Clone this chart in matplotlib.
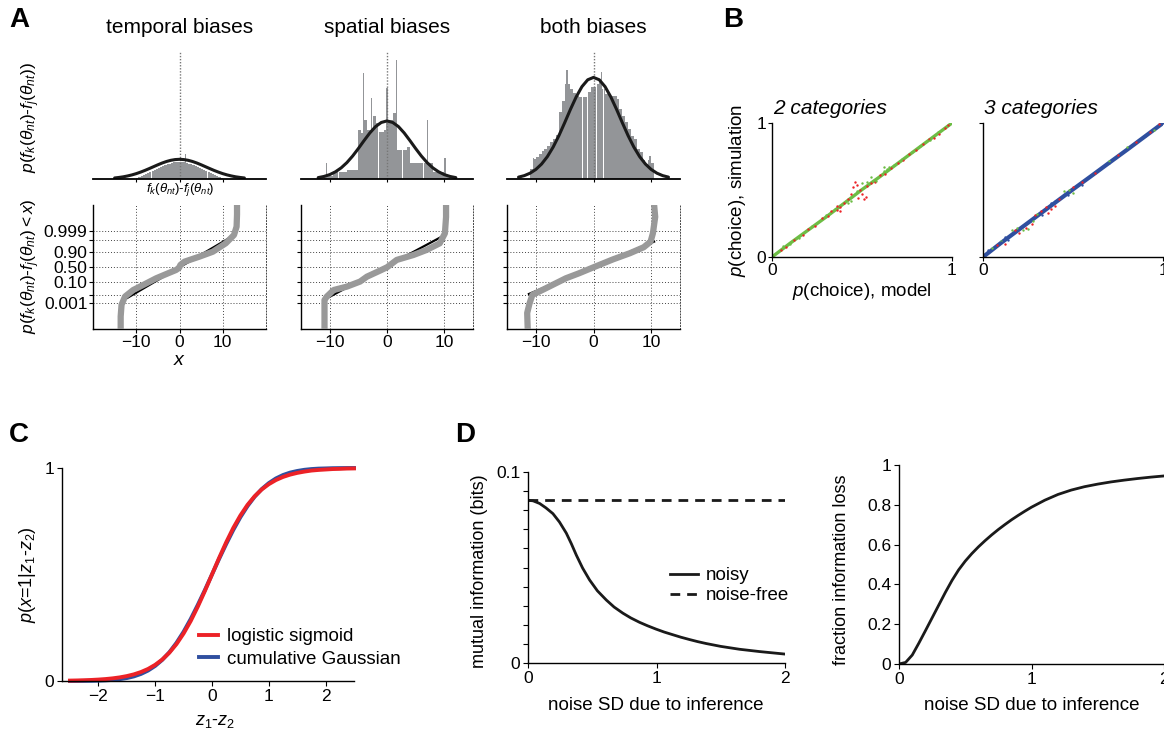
import matplotlib
matplotlib.use('Agg')
import matplotlib.pyplot as plt
from matplotlib.ticker import MultipleLocator, FixedLocator

plt.rcParams['font.family'] = ['Liberation Sans', 'DejaVu Sans']
plt.rcParams['mathtext.fontset'] = 'custom'
plt.rcParams['mathtext.rm'] = 'Liberation Sans'
plt.rcParams['mathtext.it'] = 'Liberation Sans:italic'
plt.rcParams['mathtext.bf'] = 'Liberation Sans:bold'
plt.rcParams['axes.linewidth'] = 1.0

# ---------------- DATA ----------------
# Panel A, histograms (bin width 0.5)
titles_A = ['temporal biases', 'spatial biases', 'both biases']
xlim_A = [20, 15, 15]
bin_width = 0.5
temporal_first_center = -9.75
temporal_hist = [0.004, 0.007, 0.010, 0.013, 0.016, 0.019, 0.022, 0.025, 0.029, 0.032,
                 0.035, 0.038, 0.041, 0.043, 0.046, 0.048, 0.050, 0.052, 0.053, 0.055,
                 0.055, 0.053, 0.052, 0.050, 0.048, 0.046, 0.043, 0.041, 0.038, 0.035,
                 0.032, 0.029, 0.025, 0.022, 0.019, 0.016, 0.013, 0.010, 0.007, 0.004]
temporal_spike_x = [-1.5, 1.4]
temporal_spike_h = [0.080, 0.080]
temporal_gaps = [-6.5, -5.4, -3.8, -2.7, 0.4, 2.7, 3.8, 5.4, 6.5, 8.0]

spatial_first_center = -10.75
spatial_hist = [0.009, 0.009, 0.009, 0.023, 0.023, 0.023, 0.023, 0.023, 0.028, 0.028,
                0.028, 0.028, 0.154, 0.144, 0.186, 0.154, 0.154, 0.200, 0.175, 0.149,
                0.149, 0.154, 0.186, 0.186, 0.207, 0.091, 0.091, 0.091, 0.091, 0.102,
                0.049, 0.049, 0.051, 0.051, 0.051, 0.051, 0.049, 0.049, 0.023, 0.023,
                0.023, 0.023, 0.013, 0.013]
spatial_spike_x = [-10.6, -4.1, -2.7, 0.0, 1.6, 7.0, 10.1]
spatial_spike_h = [0.049, 0.335, 0.254, 0.286, 0.375, 0.186, 0.065]
spatial_gaps = [-8.4, -1.45, 2.7, 6.4, 8.7]

both_first_center = -10.75
both_hist = [0.030, 0.063, 0.070, 0.080, 0.088, 0.095, 0.105, 0.115, 0.126, 0.140,
             0.210, 0.245, 0.300, 0.300, 0.283, 0.270, 0.262, 0.257, 0.257, 0.257,
             0.275, 0.290, 0.290, 0.300, 0.315, 0.283, 0.268, 0.268, 0.262, 0.262,
             0.252, 0.220, 0.200, 0.180, 0.157, 0.135, 0.126, 0.095, 0.084, 0.060,
             0.047, 0.060, 0.050, 0.000]
both_spike_x = [-10.4, -4.6, 1.35, 9.8]
both_spike_h = [0.066, 0.344, 0.338, 0.073]
both_gaps = [-1.9, -1.0, 0.5, 1.75]

# fitted normal curves
temporal_gauss_x = list(range(-15, 16))
temporal_gauss_y = [0.0033, 0.0049, 0.0069, 0.0096, 0.0129, 0.0169, 0.0217, 0.0270, 0.0328, 0.0388,
                    0.0448, 0.0504, 0.0552, 0.0589, 0.0612, 0.0620, 0.0612, 0.0589, 0.0552, 0.0504,
                    0.0448, 0.0388, 0.0328, 0.0270, 0.0217, 0.0169, 0.0129, 0.0096, 0.0069, 0.0049,
                    0.0033]
spatial_gauss_x = list(range(-12, 13))
spatial_gauss_y = [0.0044, 0.0080, 0.0138, 0.0226, 0.0350, 0.0516, 0.0722, 0.0959, 0.121, 0.145,
                   0.165, 0.178, 0.183, 0.178, 0.165, 0.145, 0.121, 0.0959, 0.0722, 0.0516,
                   0.0350, 0.0226, 0.0138, 0.0080, 0.0044]
both_gauss_x = list(range(-13, 14))
both_gauss_y = [0.0059, 0.0106, 0.0183, 0.0301, 0.0472, 0.0705, 0.1005, 0.1366, 0.1772, 0.2193,
                0.2586, 0.291, 0.3125, 0.320, 0.3125, 0.291, 0.2586, 0.2193, 0.1772, 0.1366,
                0.1005, 0.0705, 0.0472, 0.0301, 0.0183, 0.0106, 0.0059]

# Panel A, normal probability plots (x value vs. normal quantile z)
prob_labels = ['0.001', '', '0.10', '0.50', '0.90', '', '0.999']
prob_z = [-3.090, -2.326, -1.2816, 0.0, 1.2816, 2.326, 3.090]
temporal_q_x = [-13.6, -13.6, -13.4, -12.6, -10.7, -8.4, -5.4, -2.3, -0.8, -0.1, 0.2, 1.15, 4.6, 7.7, 10.7, 12.6, 13.2, 13.3, 13.3]
temporal_q_z = [-5.4, -4.2, -3.2, -2.5, -1.94, -1.51, -0.94, -0.46, -0.23, -0.05, 0.2, 0.48, 0.91, 1.33, 2.05, 2.76, 3.47, 4.5, 5.4]
spatial_q_x = [-10.9, -10.9, -10.5, -9.3, -7.0, -4.7, -3.5, -1.2, 0.0, 1.7, 4.6, 6.9, 9.2, 10.1, 10.3, 10.3]
spatial_q_z = [-5.4, -2.8, -2.5, -1.94, -1.65, -1.22, -0.8, -0.28, 0.0, 0.63, 1.05, 1.48, 2.05, 2.9, 4.3, 5.4]
both_q_x = [-11.4, -11.5, -11.1, -10.6, -8.3, -4.8, -2.5, 0.0, 3.4, 6.3, 8.7, 9.9, 10.3, 10.7, 10.5]
both_q_z = [-5.4, -3.9, -3.1, -2.36, -1.8, -0.94, -0.51, 0.0, 0.68, 1.2, 1.71, 2.19, 2.9, 4.3, 5.4]
temporal_fit_x, temporal_fit_z = [-12.0, 12.0], [-2.6, 2.6]
spatial_fit_x, spatial_fit_z = [-10.5, 9.8], [-2.65, 2.68]
both_fit_x, both_fit_z = [-11.2, 10.5], [-2.28, 2.19]

# Panel B
b2_band_model = [0.0, 0.1, 0.2, 0.3, 0.4, 0.5, 0.6, 0.7, 0.8, 0.9, 1.0]
b2_band_sim = [0.0, 0.102, 0.2, 0.298, 0.4, 0.503, 0.6, 0.7, 0.8, 0.9, 1.0]
b2_red_model = [0.05, 0.08, 0.12, 0.17, 0.20, 0.24, 0.28, 0.31, 0.33, 0.36, 0.38, 0.40, 0.42, 0.44, 0.45, 0.47, 0.46, 0.49, 0.50, 0.52,
                0.51, 0.48, 0.53, 0.55, 0.57, 0.60, 0.63, 0.66, 0.70, 0.73, 0.76, 0.80, 0.84, 0.87, 0.90, 0.93, 0.96, 0.98, 0.36, 0.38]
b2_red_sim = [0.055, 0.075, 0.125, 0.165, 0.21, 0.235, 0.29, 0.305, 0.34, 0.35, 0.375, 0.40, 0.43, 0.47, 0.52, 0.54, 0.56, 0.50, 0.47, 0.45,
              0.43, 0.44, 0.53, 0.55, 0.56, 0.61, 0.62, 0.665, 0.70, 0.725, 0.765, 0.795, 0.84, 0.88, 0.89, 0.92, 0.965, 0.985, 0.38, 0.34]
b2_green_model = [0.06, 0.10, 0.15, 0.22, 0.30, 0.35, 0.42, 0.44, 0.47, 0.50, 0.53, 0.58, 0.62, 0.65, 0.68, 0.72, 0.78, 0.82, 0.88, 0.92, 0.55, 0.62, 0.64]
b2_green_sim = [0.08, 0.10, 0.14, 0.23, 0.31, 0.36, 0.40, 0.42, 0.49, 0.55, 0.56, 0.57, 0.64, 0.67, 0.685, 0.73, 0.785, 0.83, 0.875, 0.935, 0.60, 0.67, 0.66]

b3_band_model = [0.0, 0.1, 0.2, 0.3, 0.4, 0.5, 0.6, 0.7, 0.8, 0.9, 1.0]
b3_band_sim = [0.0, 0.105, 0.205, 0.305, 0.405, 0.505, 0.603, 0.702, 0.8, 0.9, 1.0]
b3_red_model = [0.08, 0.12, 0.20, 0.24, 0.27, 0.29, 0.32, 0.36, 0.38, 0.40, 0.42, 0.50, 0.55, 0.62, 0.75, 0.85, 0.93, 0.98, 0.18, 0.35]
b3_red_sim = [0.09, 0.10, 0.18, 0.22, 0.25, 0.31, 0.34, 0.33, 0.36, 0.38, 0.43, 0.52, 0.56, 0.63, 0.76, 0.86, 0.93, 0.99, 0.20, 0.37]
b3_green_model = [0.05, 0.10, 0.16, 0.19, 0.22, 0.25, 0.28, 0.45, 0.48, 0.50, 0.70, 0.80, 0.95, 0.30]
b3_green_sim = [0.07, 0.12, 0.20, 0.22, 0.20, 0.21, 0.27, 0.49, 0.50, 0.48, 0.72, 0.82, 0.95, 0.32]
b3_blue_model = [0.03, 0.10, 0.14, 0.20, 0.26, 0.33, 0.40, 0.47, 0.55, 0.60, 0.70, 0.82, 0.90, 1.00, 0.38, 0.12]
b3_blue_sim = [0.05, 0.11, 0.13, 0.21, 0.27, 0.31, 0.42, 0.46, 0.54, 0.61, 0.70, 0.83, 0.90, 1.00, 0.40, 0.15]

# Panel C
c_x = [-2.5, -2.375, -2.25, -2.125, -2.0, -1.875, -1.75, -1.625, -1.5, -1.375, -1.25, -1.125,
       -1.0, -0.875, -0.75, -0.625, -0.5, -0.375, -0.25, -0.125, 0.0,
       0.125, 0.25, 0.375, 0.5, 0.625, 0.75, 0.875, 1.0, 1.125, 1.25, 1.375,
       1.5, 1.625, 1.75, 1.875, 2.0, 2.125, 2.25, 2.375, 2.5]
c_logistic = [0.0019, 0.0026, 0.0036, 0.0049, 0.0067, 0.0091, 0.0124, 0.0169, 0.0230, 0.0311, 0.0421, 0.0566,
              0.0759, 0.1009, 0.133, 0.1733, 0.223, 0.2814, 0.349, 0.4225, 0.5,
              0.5775, 0.651, 0.7186, 0.777, 0.8267, 0.867, 0.8991, 0.924, 0.9434, 0.958, 0.9689,
              0.977, 0.9831, 0.988, 0.9909, 0.993, 0.9951, 0.996, 0.9974, 0.998]
c_gauss = [0.0001, 0.0002, 0.0005, 0.0009, 0.0016, 0.0029, 0.0051, 0.0085, 0.0137, 0.0216, 0.0331, 0.0491,
           0.0708, 0.0992, 0.135, 0.179, 0.231, 0.2908, 0.357, 0.427, 0.5,
           0.573, 0.643, 0.7092, 0.769, 0.821, 0.865, 0.9008, 0.929, 0.9509, 0.967, 0.9784,
           0.986, 0.9915, 0.995, 0.9971, 0.998, 0.9991, 0.9995, 0.9998, 0.9999]

# Panel D
d_noisy_x = [0.0, 0.04, 0.091, 0.14, 0.194, 0.245, 0.298, 0.337, 0.376, 0.425, 0.479, 0.54, 0.609, 0.67,
             0.738, 0.8, 0.868, 0.93, 0.998, 1.06, 1.127, 1.19, 1.256, 1.32, 1.386, 1.5, 1.645, 1.8, 1.995]
d_noisy_y = [0.0852, 0.0849, 0.0835, 0.0812, 0.0782, 0.0738, 0.0680, 0.0625, 0.0565, 0.0497, 0.0435, 0.0378, 0.0330, 0.0293,
             0.0261, 0.0236, 0.0213, 0.0195, 0.0177, 0.0162, 0.0148, 0.0135, 0.0123, 0.0112, 0.0102, 0.0087, 0.0072, 0.0060, 0.0047]
d_free_x = [0.0, 2.0]
d_free_y = [0.0852, 0.0852]
d_loss_x = [0.0, 0.05, 0.10, 0.15, 0.20, 0.25, 0.30, 0.35, 0.40, 0.45, 0.50, 0.55, 0.60, 0.65, 0.70, 0.75,
            0.80, 0.85, 0.90, 0.95, 1.00, 1.10, 1.20, 1.30, 1.40, 1.50, 1.60, 1.70, 1.80, 1.90, 2.00]
d_loss_y = [0.0, 0.008, 0.045, 0.105, 0.168, 0.232, 0.296, 0.36, 0.42, 0.473, 0.517, 0.555, 0.589, 0.62, 0.649, 0.676,
            0.701, 0.725, 0.747, 0.768, 0.788, 0.823, 0.852, 0.874, 0.891, 0.904, 0.915, 0.924, 0.932, 0.939, 0.945]

# ---------------- FIGURE ----------------
W, H = 1164, 738
fig = plt.figure(figsize=(W / 100, H / 100), dpi=100)

def add_ax(x0, y0, x1, y1):
    return fig.add_axes([x0 / W, 1 - y1 / H, (x1 - x0) / W, (y1 - y0) / H])

def ftext(x, y, s, **kw):
    return fig.text(x / W, 1 - y / H, s, **kw)

HIST_GRAY = '#939598'
Q_GRAY = '#999999'
RED = '#ec2227'
BLUE = '#2f4f9f'
GREEN = '#6dbd45'

hist_sets = [
    (temporal_first_center, temporal_hist, temporal_spike_x, temporal_spike_h, temporal_gaps, temporal_gauss_x, temporal_gauss_y),
    (spatial_first_center, spatial_hist, spatial_spike_x, spatial_spike_h, spatial_gaps, spatial_gauss_x, spatial_gauss_y),
    (both_first_center, both_hist, both_spike_x, both_spike_h, both_gaps, both_gauss_x, both_gauss_y),
]
q_sets = [
    (temporal_q_x, temporal_q_z, temporal_fit_x, temporal_fit_z),
    (spatial_q_x, spatial_q_z, spatial_fit_x, spatial_fit_z),
    (both_q_x, both_q_z, both_fit_x, both_fit_z),
]
col_x = [(93, 266), (301, 473), (507, 680)]

for i in range(3):
    x0, x1 = col_x[i]
    lim = xlim_A[i]
    # ---- histogram ----
    ax = add_ax(x0, 52, x1, 179)
    first, heights, sx, sh, gaps, gx, gy = hist_sets[i]
    centers = [first + bin_width * k for k in range(len(heights))]
    ax.bar(centers, heights, width=bin_width, color=HIST_GRAY, linewidth=0)
    ax.bar(sx, sh, width=0.22, color=HIST_GRAY, linewidth=0)
    ax.bar(gaps, [0.4] * len(gaps), width=0.12, color='white', linewidth=0)
    ax.axvline(0, color='#777777', lw=1.0, ls=(0, (1, 1.2)))
    ax.plot(gx, gy, color='#1a1a1a', lw=2.2, solid_capstyle='round')
    ax.set_xlim(-lim, lim)
    ax.set_ylim(0, 0.4)
    for s in ['left', 'right', 'top']:
        ax.spines[s].set_visible(False)
    ax.spines['bottom'].set_linewidth(1.3)
    ax.set_yticks([])
    ax.set_xticks([-10, 0, 10])
    ax.tick_params(axis='x', direction='out', length=2, width=0.8, labelbottom=False)
    ftext((x0 + x1) / 2, 33, titles_A[i], ha='center', va='baseline', fontsize=15)

    # ---- normal probability plot ----
    ax2 = add_ax(x0, 205, x1, 329)
    qx, qz, fx, fz = q_sets[i]
    ax2.plot(fx, fz, color='black', lw=1.6, zorder=3)
    ax2.plot(qx, qz, color=Q_GRAY, lw=4.5, zorder=4, solid_capstyle='butt')
    ax2.set_xlim(-lim, lim)
    ax2.set_ylim(-5.27, 5.32)
    ax2.set_xticks([-10, 0, 10])
    ax2.set_xticklabels(['\u221210', '0', '10'])
    ax2.yaxis.set_major_locator(FixedLocator(prob_z))
    if i == 0:
        ax2.set_yticklabels(prob_labels)
    else:
        ax2.set_yticklabels([''] * len(prob_z))
    ax2.grid(True, color='#444444', lw=0.7, ls=(0, (1, 2)))
    ax2.tick_params(direction='out', length=3, width=0.8, labelsize=12.5, pad=1)
    ax2.spines['top'].set_visible(False)
    ax2.spines['right'].set_linestyle((0, (1, 2)))
    ax2.spines['right'].set_color('#444444')
    ax2.spines['right'].set_linewidth(0.7)

ftext(180, 190, r'$f_k(\theta_{nt})$-$f_j(\theta_{nt})$', ha='center', va='center', fontsize=9.5)
ftext(180, 361, r'$x$', ha='center', va='center', fontsize=14)
ftext(31, 118, r'$p(f_k(\theta_{nt})$-$f_j(\theta_{nt}))$', ha='center', va='center', rotation=90, fontsize=12.5)
ftext(31, 266, r'$p(f_k(\theta_{nt})$-$f_j(\theta_{nt})<x)$', ha='center', va='center', rotation=90, fontsize=12.5)

# ---------------- Panel B ----------------
bsets = [
    ('2 categories', 772, 952, [(b2_band_model, b2_band_sim, GREEN)],
     [(b2_red_model, b2_red_sim, RED), (b2_green_model, b2_green_sim, GREEN)]),
    ('3 categories', 983, 1163, [(b3_band_model, b3_band_sim, BLUE)],
     [(b3_red_model, b3_red_sim, RED), (b3_green_model, b3_green_sim, GREEN), (b3_blue_model, b3_blue_sim, BLUE)]),
]
for j, (title, x0, x1, bands, dots) in enumerate(bsets):
    ax = add_ax(x0, 123, x1, 257)
    for mx, sy, c in bands:
        ax.plot(mx, sy, color=c, lw=2.4 if j == 0 else 3.0, zorder=2)
    for mx, sy, c in dots:
        ax.scatter(mx, sy, s=3, color=c, linewidths=0, zorder=3)
    ax.set_xlim(0, 1)
    ax.set_ylim(0, 1)
    ax.set_xticks([0, 1])
    ax.set_yticks([0, 1])
    ax.set_xticklabels(['0', '1'])
    ax.set_yticklabels(['0', '1'] if j == 0 else ['', ''])
    for s in ['right', 'top']:
        ax.spines[s].set_visible(False)
    ax.tick_params(direction='out', length=3, width=0.8, labelsize=12.5, pad=1)
    ftext(x0 + 1, 114, title, ha='left', va='baseline', fontsize=15, style='italic')

ftext(738, 190, r'$p$(choice), simulation', ha='center', va='center', rotation=90, fontsize=13.5)
ftext(862, 291, r'$p$(choice), model', ha='center', va='center', fontsize=13.5)

# ---------------- Panel C ----------------
ax = add_ax(62, 468, 354, 681)
ax.plot(c_x, c_gauss, color=BLUE, lw=2.8, label='cumulative Gaussian', clip_on=False)
ax.plot(c_x, c_logistic, color=RED, lw=2.8, label='logistic sigmoid', clip_on=False)
ax.set_xlim(-2.64, 2.5)
ax.set_ylim(0, 1)
ax.set_xticks([-2, -1, 0, 1, 2])
ax.set_xticklabels(['\u22122', '\u22121', '0', '1', '2'])
ax.set_yticks([0, 1])
for s in ['right', 'top']:
    ax.spines[s].set_visible(False)
ax.tick_params(direction='out', length=3.5, width=0.8, labelsize=12.5, pad=2)
hh, ll = ax.get_legend_handles_labels()
ax.legend([hh[1], hh[0]], [ll[1], ll[0]], loc='upper left', bbox_to_anchor=(199 / W, 1 - 628 / H),
          bbox_transform=fig.transFigure, frameon=False, fontsize=13.5, handlelength=1.0,
          handletextpad=0.5, labelspacing=0.3, borderpad=0, borderaxespad=0)
ftext(27, 575, r'$p$($x$=1|$z_1$-$z_2$)', ha='center', va='center', rotation=90, fontsize=13)
ftext(215, 721, r'$z_1$-$z_2$', ha='center', va='center', fontsize=13)

# ---------------- Panel D ----------------
ax = add_ax(528, 472, 785, 663)
ax.plot(d_free_x, d_free_y, color='#1a1a1a', lw=2.0, ls=(0, (3.5, 2.5)), label='noise-free')
ax.plot(d_noisy_x, d_noisy_y, color='#1a1a1a', lw=2.0, label='noisy')
ax.set_xlim(0, 2)
ax.set_ylim(0, 0.1)
ax.set_xticks([0, 1, 2])
ax.set_yticks([0, 0.1])
ax.set_yticklabels(['0', '0.1'])
ax.yaxis.set_minor_locator(MultipleLocator(0.01))
for s in ['right', 'top']:
    ax.spines[s].set_visible(False)
ax.tick_params(which='both', direction='out', length=3.5, width=0.8, labelsize=12.5, pad=2)
hh, ll = ax.get_legend_handles_labels()
ax.legend([hh[1], hh[0]], [ll[1], ll[0]], loc='upper left', bbox_to_anchor=(670 / W, 1 - 567 / H),
          bbox_transform=fig.transFigure, frameon=False, fontsize=13.5, handlelength=1.5,
          handletextpad=0.4, labelspacing=0.15, borderpad=0, borderaxespad=0)
ftext(480, 571, 'mutual information (bits)', ha='center', va='center', rotation=90, fontsize=13)
ftext(656, 705, 'noise SD due to inference', ha='center', va='center', fontsize=13.5)

ax = add_ax(899, 465, 1164, 664)
ax.plot(d_loss_x, d_loss_y, color='#1a1a1a', lw=2.0)
ax.set_xlim(0, 2)
ax.set_ylim(0, 1)
ax.set_xticks([0, 1, 2])
ax.set_yticks([0, 0.2, 0.4, 0.6, 0.8, 1.0])
ax.set_yticklabels(['0', '0.2', '0.4', '0.6', '0.8', '1'])
for s in ['right', 'top']:
    ax.spines[s].set_visible(False)
ax.tick_params(direction='out', length=3.5, width=0.8, labelsize=12.5, pad=2)
ftext(842, 570, 'fraction information loss', ha='center', va='center', rotation=90, fontsize=13)
ftext(1032, 705, 'noise SD due to inference', ha='center', va='center', fontsize=13.5)

# panel letters
for letter, x, y in [('A', 9, 7), ('B', 723, 7), ('C', 9, 422), ('D', 455, 422)]:
    ftext(x, y, letter, ha='left', va='top', fontsize=20, fontweight='bold')

fig.savefig('out.png', dpi=100)
